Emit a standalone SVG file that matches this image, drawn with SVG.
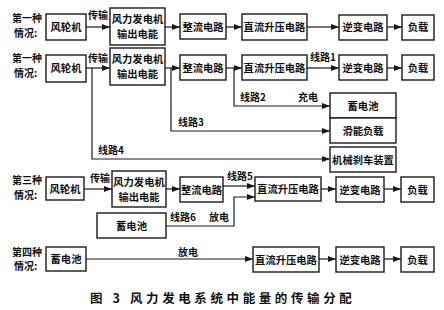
<svg xmlns="http://www.w3.org/2000/svg" width="444" height="310" viewBox="0 0 444 310">
<defs>
<marker id="ah" viewBox="0 0 8 6" refX="8" refY="3" markerWidth="8" markerHeight="6" markerUnits="userSpaceOnUse" orient="auto">
<path d="M0,0 L8,3 L0,6 z" fill="#1a1a1a"/>
</marker>
<style>
.b{fill:#fff;stroke:#1a1a1a;stroke-width:1.4}
.t{font-family:"Noto Sans CJK SC","Liberation Sans",sans-serif;font-size:10.3px;fill:#111;text-anchor:middle;font-weight:bold}
.l{font-family:"Noto Sans CJK SC","Liberation Sans",sans-serif;font-size:10px;fill:#111;font-weight:bold}
.c{fill:none;stroke:#1a1a1a;stroke-width:1.2}
.a{fill:none;stroke:#1a1a1a;stroke-width:1.2;marker-end:url(#ah)}
.cap{font-family:"Noto Sans CJK SC","Liberation Serif",serif;font-size:12.5px;fill:#111;font-weight:bold;letter-spacing:3.6px}
</style>
</defs>
<rect width="444" height="310" fill="#fff"/>

<g id="labels">
<text class="l" x="12" y="22">第一种</text><text class="l" x="14" y="37">情况:</text>
<text class="l" x="12" y="62">第一种</text><text class="l" x="14" y="77">情况:</text>
<text class="l" x="12" y="184">第三种</text><text class="l" x="14" y="199">情况:</text>
<text class="l" x="12" y="256">第四种</text><text class="l" x="14" y="270">情况:</text>
<text class="l" x="88" y="19">传输</text>
<text class="l" x="88" y="62">传输</text>
<text class="l" x="90" y="182">传输</text>
<text class="l" x="310" y="61">线路1</text>
<text class="l" x="240" y="101">线路2</text>
<text class="l" x="298" y="101">充电</text>
<text class="l" x="178" y="126">线路3</text>
<text class="l" x="98" y="154">线路4</text>
<text class="l" x="227" y="180">线路5</text>
<text class="l" x="170" y="221">线路6</text>
<text class="l" x="209" y="221">放电</text>
<text class="l" x="178" y="256">放电</text>
</g>

<g id="connectors">
<line class="a" x1="86" y1="27" x2="110" y2="27"/>
<line class="a" x1="165" y1="27" x2="180" y2="27"/>
<line class="a" x1="226" y1="27" x2="242" y2="27"/>
<line class="a" x1="307" y1="27" x2="339" y2="27"/>
<line class="a" x1="387" y1="27" x2="402" y2="27"/>

<line class="a" x1="86" y1="68" x2="110" y2="68"/>
<line class="a" x1="165" y1="68" x2="180" y2="68"/>
<line class="a" x1="226" y1="68" x2="242" y2="68"/>
<line class="a" x1="307" y1="68" x2="339" y2="68"/>
<line class="a" x1="387" y1="68" x2="402" y2="68"/>
<polyline class="a" points="92,68 92,159 330,159"/>
<polyline class="a" points="171,68 171,131 330,131"/>
<polyline class="a" points="234,68 234,106 330,106"/>

<line class="a" x1="84" y1="189" x2="112" y2="189"/>
<line class="a" x1="166" y1="189" x2="180" y2="189"/>
<line class="a" x1="223" y1="186" x2="255" y2="186"/>
<polyline class="a" points="166,226 234,226 234,197 255,197"/>
<line class="a" x1="321" y1="189" x2="336" y2="189"/>
<line class="a" x1="384" y1="189" x2="401" y2="189"/>

<line class="a" x1="86" y1="259" x2="253" y2="259"/>
<line class="a" x1="319" y1="259" x2="336" y2="259"/>
<line class="a" x1="384" y1="259" x2="401" y2="259"/>
</g>

<g id="r1-wheel"><rect class="b" x="46" y="14" width="40" height="26"/><text class="t" x="66" y="31">风轮机</text></g>
<g id="r1-gen"><rect class="b" x="110" y="8" width="55" height="37"/><text class="t" x="137.5" y="23">风力发电机</text><text class="t" x="137.5" y="38">输出电能</text></g>
<g id="r1-rect"><rect class="b" x="180" y="14" width="46" height="25"/><text class="t" x="203" y="30.5">整流电路</text></g>
<g id="r1-boost"><rect class="b" x="242" y="14" width="65" height="26"/><text class="t" x="274.5" y="31">直流升压电路</text></g>
<g id="r1-inv"><rect class="b" x="339" y="15" width="48" height="25"/><text class="t" x="363" y="31">逆变电路</text></g>
<g id="r1-load"><rect class="b" x="402" y="15" width="32" height="25"/><text class="t" x="418" y="31">负载</text></g>

<g id="r2-wheel"><rect class="b" x="46" y="55" width="40" height="27"/><text class="t" x="66" y="72">风轮机</text></g>
<g id="r2-gen"><rect class="b" x="110" y="48" width="55" height="37"/><text class="t" x="137.5" y="63">风力发电机</text><text class="t" x="137.5" y="78">输出电能</text></g>
<g id="r2-rect"><rect class="b" x="180" y="55" width="46" height="25"/><text class="t" x="203" y="71.5">整流电路</text></g>
<g id="r2-boost"><rect class="b" x="242" y="55" width="65" height="25"/><text class="t" x="274.5" y="71.5">直流升压电路</text></g>
<g id="r2-inv"><rect class="b" x="339" y="55" width="48" height="25"/><text class="t" x="363" y="71.5">逆变电路</text></g>
<g id="r2-load"><rect class="b" x="402" y="55" width="32" height="25"/><text class="t" x="418" y="71.5">负载</text></g>
<g id="r2-battery"><rect class="b" x="330" y="93" width="66" height="25"/><text class="t" x="363" y="109.5">蓄电池</text></g>
<g id="r2-dump"><rect class="b" x="330" y="118" width="66" height="25"/><text class="t" x="363" y="134.5">滑能负载</text></g>
<g id="r2-brake"><rect class="b" x="330" y="147" width="66" height="25"/><text class="t" x="363" y="163.5">机械刹车装置</text></g>

<g id="r3-wheel"><rect class="b" x="46" y="177" width="38" height="23"/><text class="t" x="65" y="192.5">风轮机</text></g>
<g id="r3-gen"><rect class="b" x="112" y="171" width="54" height="36"/><text class="t" x="139" y="186">风力发电机</text><text class="t" x="139" y="201">输出电能</text></g>
<g id="r3-rect"><rect class="b" x="180" y="177" width="43" height="25"/><text class="t" x="201.5" y="193.5">整流电路</text></g>
<g id="r3-boost"><rect class="b" x="255" y="177" width="66" height="24"/><text class="t" x="288" y="193">直流升压电路</text></g>
<g id="r3-inv"><rect class="b" x="336" y="177" width="48" height="25"/><text class="t" x="360" y="193.5">逆变电路</text></g>
<g id="r3-load"><rect class="b" x="401" y="177" width="33" height="25"/><text class="t" x="417.5" y="193.5">负载</text></g>
<g id="r3-battery"><rect class="b" x="97" y="213" width="69" height="25"/><text class="t" x="131.5" y="229.5">蓄电池</text></g>

<g id="r4-battery"><rect class="b" x="46" y="247" width="40" height="24"/><text class="t" x="66" y="263">蓄电池</text></g>
<g id="r4-boost"><rect class="b" x="253" y="247" width="66" height="25"/><text class="t" x="286" y="263.5">直流升压电路</text></g>
<g id="r4-inv"><rect class="b" x="336" y="247" width="48" height="25"/><text class="t" x="360" y="263.5">逆变电路</text></g>
<g id="r4-load"><rect class="b" x="401" y="247" width="33" height="25"/><text class="t" x="417.5" y="263.5">负载</text></g>

<text class="cap" x="90" y="303">图 3  风力发电系统中能量的传输分配</text>
</svg>
